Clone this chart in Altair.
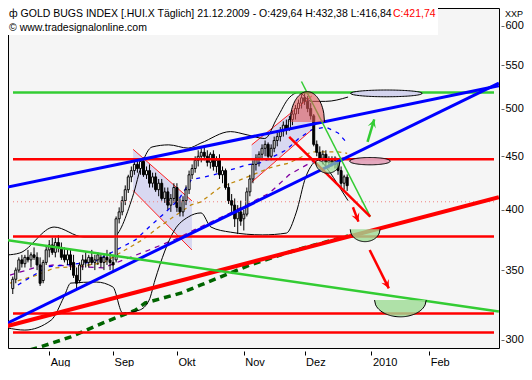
import altair as alt
import numpy as np
import pandas as pd

# ---------------- price bars (trading-day index, 0 = 3 Aug 2009, 98 = 21 Dec 2009)
bar_idx = list(range(-12, 99))
opens = [336, 343, 350, 358, 355, 360, 358, 362, 360, 354, 342, 356,
         366, 370, 364, 372, 368, 362, 358, 362, 356, 346,
         342, 354, 358, 356, 360, 356, 358, 360, 356, 360,
         358, 356, 358, 392, 398, 408, 418, 430, 436, 442,
         438, 445, 432, 436, 424, 430, 418, 424, 410, 416,
         404, 410, 420, 402, 398, 408, 418, 432, 438, 446,
         450, 454, 450, 444, 452, 440, 446, 432, 436, 420,
         408, 404, 392, 398, 392, 396, 416, 428, 442, 448,
         452, 458, 462, 450, 458, 466, 470, 476, 482, 478,
         488, 494, 500, 506, 512, 508, 500, 492, 462, 454,
         448, 452, 444, 446, 442, 446, 436, 424, 429.64]
highs = [345, 352, 360, 362, 362, 366, 364, 368, 364, 360, 358, 370,
         374, 376, 376, 378, 372, 368, 366, 366, 362, 352,
         356, 362, 364, 362, 366, 362, 364, 362, 362, 366,
         364, 362, 394, 402, 412, 422, 432, 440, 446, 447,
         448, 449, 440, 442, 434, 434, 428, 428, 420, 420,
         414, 424, 424, 410, 412, 422, 436, 442, 450, 456,
         458, 460, 456, 454, 456, 450, 452, 440, 438, 424,
         414, 410, 404, 408, 400, 420, 432, 446, 452, 455,
         462, 466, 464, 462, 470, 474, 480, 486, 488, 492,
         498, 504, 510, 516, 518, 514, 506, 494, 466, 460,
         456, 456, 450, 450, 450, 448, 440, 432, 432.38]
lows = [332, 340, 348, 352, 352, 356, 352, 358, 350, 338, 340, 354,
        360, 362, 360, 364, 358, 356, 354, 350, 344, 336,
        340, 350, 352, 352, 354, 350, 354, 352, 350, 354,
        350, 348, 356, 388, 395, 404, 415, 425, 432, 434,
        432, 430, 428, 420, 420, 416, 412, 408, 406, 400,
        398, 406, 398, 394, 394, 404, 414, 428, 434, 440,
        444, 446, 440, 438, 436, 434, 428, 424, 418, 405,
        398, 385, 379, 386, 382, 394, 412, 424, 436, 440,
        446, 450, 446, 446, 454, 460, 465, 470, 472, 476,
        482, 488, 494, 500, 504, 496, 488, 460, 450, 445,
        442, 440, 438, 440, 438, 432, 420, 418, 416.84]
closes = [343, 350, 358, 355, 360, 358, 362, 360, 354, 340, 356, 366,
          370, 364, 372, 368, 360, 358, 362, 354, 346, 340,
          354, 358, 356, 360, 356, 358, 362, 356, 360, 358,
          356, 354, 392, 398, 408, 418, 430, 436, 442, 438,
          445, 432, 436, 424, 430, 418, 424, 410, 416, 404,
          410, 420, 402, 398, 408, 418, 432, 438, 446, 450,
          454, 450, 444, 452, 440, 446, 432, 436, 420, 408,
          404, 392, 398, 390, 396, 416, 428, 442, 448, 452,
          458, 462, 450, 458, 466, 470, 476, 482, 478, 488,
          494, 500, 506, 512, 508, 500, 492, 462, 454, 448,
          452, 444, 446, 442, 446, 436, 424, 430, 421.74]

# ---------------- axis ticks
tick_idx = [0, 21, 42, 64, 84, 106, 125]
tick_lbl = ["Aug", "Sep", "Okt", "Nov", "Dez", "2010", "Feb"]
y_ticks = [300, 350, 400, 450, 500, 550, 600]
X_DOM = [-11.92, 146.3]
Y_DOM = [294.7, 624.3]

# ---------------- indicator lines (index, value)
bb_up_i = [-13.85, -9.67, 1.61, 11.28, 20.94, 27.38, 30.6, 33.8, 39.3, 45.7, 49.9, 59.6, 65.1, 70.9, 75.0, 78.9, 82.0, 86.3, 90.9, 98.3]
bb_up_v = [361.9, 363.5, 384.9, 376.6, 376.6, 411.1, 443.4, 459.3, 461.5, 458.2, 463.3, 475.2, 471.8, 468.0, 490.0, 512.0, 518.0, 508.0, 508.0, 512.9]
bb_lo_i = [-13.85, -8.05, 0.64, 4.83, 7.09, 15.46, 20.94, 24.16, 29.64, 32.86, 34.79, 41.24, 45.75, 49.94, 53.2, 59.6, 70.2, 78.0, 81.2, 84.4, 88.6, 91.9, 95.0, 98.3]
bb_lo_v = [308.1, 306.6, 313.4, 329.8, 340.1, 340.9, 337.2, 318.4, 320.4, 327.6, 342.4, 382.5, 393.6, 397.1, 384.9, 380.6, 378.3, 379.8, 397.1, 430.0, 446.0, 436.0, 422.5, 408.0]
ma_blue_i = [-10.3, -0.64, 14.5, 28.35, 32.86, 38.0, 42.5, 46.7, 54.1, 59.6, 65.1, 69.3, 73.5, 78.0, 82.2, 86.3, 90.9, 95.0, 98.0]
ma_blue_v = [338.7, 352.5, 356.3, 374.1, 384.9, 397.1, 408.7, 427.2, 431.9, 436.7, 441.6, 443.4, 449.3, 456.4, 468.4, 477.0, 480.1, 473.8, 463.3]
ma_orange_i = [-12.9, -3.87, 1.61, 8.05, 17.7, 30.6, 36.1, 40.3, 46.7, 49.9, 56.4, 62.8, 72.5, 78.9, 86.3, 95.0, 98.0]
ma_orange_v = [340.1, 346.2, 351.7, 352.5, 355.6, 374.1, 384.9, 392.7, 404.2, 406.9, 420.6, 427.2, 438.6, 443.4, 454.3, 454.3, 453.0]
ma_purple_i = [-12.9, -3.87, 1.61, 17.7, 32.86, 42.5, 47.7, 59.6, 72.5, 78.9, 86.3, 95.0, 98.0]
ma_purple_v = [346.2, 352.5, 354.0, 351.7, 365.9, 375.8, 382.5, 397.1, 415.0, 431.9, 444.4, 448.4, 448.0]
ma_green_i = [-13.85, -3.87, 7.09, 17.7, 28.35, 31.6, 43.5, 49.9, 66.0, 81.2, 98.3]
ma_green_v = [289.6, 294.8, 302.0, 311.5, 320.4, 325.5, 332.8, 338.7, 354.0, 365.9, 377.4]

# ---------------- drawn annotations
h_level = [518, 447, 377, 318, 305]
h_color = ["#33cc33", "#ff0000", "#ff0000", "#ff0000", "#ff0000"]
dotted_level = 407
trend_i0 = [-13.85, -13.85, -13.85, -13.85, 82.96, 78.93]
trend_v0 = [420.3, 311.2, 309.3, 373.9, 530.8, 469.7]
trend_i1 = [147.9, 147.9, 147.9, 147.9, 105.6, 105.6]
trend_v1 = [525.8, 529.0, 411.1, 319.4, 393.9, 393.9]
trend_col = ["#0000ff", "#0000ff", "#ff0000", "#33cc33", "#33cc33", "#ff0000"]
trend_w = [3, 3, 4, 2.5, 1.5, 2.5]
chan_i0 = [27.6, 66.6]
chan_i1 = [46.94, 86.34]
chan_up0 = [456.9, 461.5]
chan_up1 = [407.8, 514.0]
chan_lo0 = [417.2, 425.1]
chan_lo1 = [365.9, 477.0]
shape_kind = ["ellipse", "ellipse", "bowl", "bowl", "bowl", "dome"]
shape_ci = [110.9, 105.5, 103.9, 115.5, 91.6, 84.9]
shape_hw = [11.8, 6.7, 4.9, 8.5, 4.0, 5.64]
shape_top = [520.9, 448.8, 383.0, 327.6, 444.7, 519.0]
shape_bot = [513.2, 441.6, 372.7, 315.7, 433.5, 485.5]
shape_fill = ["#d4d4ee", "#e3a3bb", "#9ddc95", "#9ddc95", "#9ddc95", "#e05a5a"]
shape_op = [1.0, 0.95, 0.8, 0.8, 0.7, 0.6]
arrow_i0 = [99.9, 105.4, 104.7]
arrow_v0 = [402.1, 365.9, 464.6]
arrow_i1 = [101.7, 111.7, 106.9]
arrow_v1 = [389.5, 336.2, 488.3]
arrow_col = ["#ff0000", "#ff0000", "#33cc33"]

W, H = 491, 340
PX_I = W / (X_DOM[1] - X_DOM[0])
PX_DEC = H / (np.log10(Y_DOM[1]) - np.log10(Y_DOM[0]))

xsc = alt.Scale(domain=X_DOM, nice=False, zero=False)
ysc = alt.Scale(type="log", domain=Y_DOM, nice=False)

lbl_expr = "".join(f"datum.value == {v} ? '{t}' : " for v, t in zip(tick_idx, tick_lbl)) + "''"
x_axis = alt.Axis(values=tick_idx, labelExpr=lbl_expr, title=None, grid=False, domain=False,
                  tickSize=4, tickColor="black", offset=3, labelAlign="left", labelPadding=1,
                  labelOffset=1, labelFont="Liberation Sans", labelFontSize=11, labelColor="black",
                  labelBaseline="top", labelOverlap=False, labelFlush=False)
y_axis = alt.Axis(orient="right", values=y_ticks, format="d", title=None, grid=False, domain=False,
                  tickSize=3, tickColor="#666666", offset=2, labelPadding=1,
                  labelFont="Liberation Sans", labelFontSize=11, labelColor="black")


def X(f="i"):
    return alt.X(f + ":Q", scale=xsc, axis=x_axis)


def Y(f="v"):
    return alt.Y(f + ":Q", scale=ysc, axis=y_axis)


layers = []
dummy = pd.DataFrame({"a": [0]})

# title background box
layers.append(alt.Chart(dummy).mark_rect(fill="white").encode(
    x=alt.value(0), x2=alt.value(430), y=alt.value(0), y2=alt.value(27)))

# channels
ch_rows = []
for k in range(len(chan_i0)):
    ch_rows.append({"id": k, "i": chan_i0[k], "lo": chan_lo0[k], "up": chan_up0[k]})
    ch_rows.append({"id": k, "i": chan_i1[k], "lo": chan_lo1[k], "up": chan_up1[k]})
layers.append(alt.Chart(pd.DataFrame(ch_rows)).mark_area(color="#d2d2f0", opacity=0.85).encode(
    x=X(), y=Y("lo"), y2="up:Q", detail="id:N"))
ch_lines = []
for k in range(len(chan_i0)):
    for side, a, b in (("u", chan_up0[k], chan_up1[k]), ("l", chan_lo0[k], chan_lo1[k])):
        ch_lines.append({"id": f"{k}{side}", "i": chan_i0[k], "v": a})
        ch_lines.append({"id": f"{k}{side}", "i": chan_i1[k], "v": b})
layers.append(alt.Chart(pd.DataFrame(ch_lines)).mark_line(color="#ff2020", strokeWidth=1).encode(
    x=X(), y=Y(), detail="id:N"))


def ser(ii, vv):
    return pd.DataFrame({"i": ii, "v": vv})


# indicator lines
layers.append(alt.Chart(ser(ma_green_i, ma_green_v)).mark_line(
    color="#006400", strokeWidth=3.5, strokeDash=[7, 5], clip=True).encode(x=X(), y=Y()))
layers.append(alt.Chart(ser(ma_purple_i, ma_purple_v)).mark_line(
    color="#8000a0", strokeWidth=1.3, strokeDash=[5, 5], clip=True).encode(x=X(), y=Y()))
layers.append(alt.Chart(ser(ma_orange_i, ma_orange_v)).mark_line(
    color="#c08a10", strokeWidth=1.3, strokeDash=[4, 4], clip=True).encode(x=X(), y=Y()))
layers.append(alt.Chart(ser(ma_blue_i, ma_blue_v)).mark_line(
    color="#0000ff", strokeWidth=1.3, strokeDash=[4, 5], clip=True).encode(x=X(), y=Y()))
layers.append(alt.Chart(ser(bb_up_i, bb_up_v)).mark_line(
    color="black", strokeWidth=1, clip=True, interpolate="monotone").encode(x=X(), y=Y()))
layers.append(alt.Chart(ser(bb_lo_i, bb_lo_v)).mark_line(
    color="black", strokeWidth=1, clip=True, interpolate="monotone").encode(x=X(), y=Y()))

# candles
cd = pd.DataFrame({"i": bar_idx, "o": opens, "h": highs, "l": lows, "c": closes})
layers.append(alt.Chart(cd).mark_rule(color="black", strokeWidth=1, clip=True).encode(
    x=X(), y=Y("l"), y2="h:Q"))
layers.append(alt.Chart(cd).mark_bar(size=2, stroke="black", strokeWidth=1, clip=True).encode(
    x=X(), y=Y("o"), y2="c:Q",
    fill=alt.condition("datum.c >= datum.o", alt.value("white"), alt.value("black"))))

# horizontal levels
hl = []
for k, (lv, col) in enumerate(zip(h_level, h_color)):
    hl.append({"id": k, "i": X_DOM[0], "v": lv, "col": col})
    hl.append({"id": k, "i": X_DOM[1], "v": lv, "col": col})
layers.append(alt.Chart(pd.DataFrame(hl)).mark_line(strokeWidth=2.5, clip=True).encode(
    x=X(), y=Y(), detail="id:N", color=alt.Color("col:N", scale=None)))
layers.append(alt.Chart(ser(X_DOM, [dotted_level, dotted_level])).mark_line(
    color="#f08080", strokeWidth=1, strokeDash=[1, 3]).encode(x=X(), y=Y()))

# trend lines
tl = []
for k in range(len(trend_i0)):
    tl.append({"id": k, "i": trend_i0[k], "v": trend_v0[k], "col": trend_col[k], "w": trend_w[k]})
    tl.append({"id": k, "i": trend_i1[k], "v": trend_v1[k], "col": trend_col[k], "w": trend_w[k]})
layers.append(alt.Chart(pd.DataFrame(tl)).mark_line(clip=True).encode(
    x=X(), y=Y(), detail="id:N", color=alt.Color("col:N", scale=None),
    strokeWidth=alt.StrokeWidth("w:Q", scale=None)))

# shapes (ellipses, bowls, dome)
sh_area, sh_edge = [], []
t = np.linspace(-1, 1, 49)
s = np.sqrt(np.clip(1 - t ** 2, 0, 1))
for k, kind in enumerate(shape_kind):
    lt, lb = np.log10(shape_top[k]), np.log10(shape_bot[k])
    xi = shape_ci[k] + shape_hw[k] * t
    if kind == "ellipse":
        mid, hh = (lt + lb) / 2, (lt - lb) / 2
        up, lo = 10 ** (mid + hh * s), 10 ** (mid - hh * s)
        edges = [("a", up), ("b", lo)]
    elif kind == "bowl":
        up, lo = np.full_like(t, shape_top[k]), 10 ** (lt - (lt - lb) * s)
        edges = [("b", lo)]
    else:
        up, lo = 10 ** (lb + (lt - lb) * s), np.full_like(t, shape_bot[k])
        edges = [("a", up)]
    for j in range(len(t)):
        sh_area.append({"id": k, "i": xi[j], "up": up[j], "lo": lo[j],
                        "fill": shape_fill[k], "op": shape_op[k]})
    for name, arr in edges:
        for j in range(len(t)):
            sh_edge.append({"id": f"{k}{name}", "i": xi[j], "v": arr[j]})
layers.append(alt.Chart(pd.DataFrame(sh_area)).mark_area().encode(
    x=X(), y=Y("lo"), y2="up:Q", detail="id:N",
    fill=alt.Fill("fill:N", scale=None), opacity=alt.Opacity("op:Q", scale=None)))
layers.append(alt.Chart(pd.DataFrame(sh_edge)).mark_line(color="black", strokeWidth=1).encode(
    x=X(), y=Y(), detail="id:N"))

# arrows
ar_sh, ar_hd = [], []
for k in range(len(arrow_i0)):
    ar_sh.append({"id": k, "i": arrow_i0[k], "v": arrow_v0[k], "col": arrow_col[k]})
    ar_sh.append({"id": k, "i": arrow_i1[k], "v": arrow_v1[k], "col": arrow_col[k]})
    dx = (arrow_i1[k] - arrow_i0[k]) * PX_I
    dy = -(np.log10(arrow_v1[k]) - np.log10(arrow_v0[k])) * PX_DEC
    ang = float(np.degrees(np.arctan2(-dx, dy))) % 360
    ar_hd.append({"i": arrow_i1[k], "v": arrow_v1[k], "col": arrow_col[k], "ang": ang})
layers.append(alt.Chart(pd.DataFrame(ar_sh)).mark_line(strokeWidth=2.5).encode(
    x=X(), y=Y(), detail="id:N", color=alt.Color("col:N", scale=None)))
layers.append(alt.Chart(pd.DataFrame(ar_hd)).mark_point(
    shape="M -1 -2 L 0 0 L 1 -2 L 0 -1.2 Z", filled=True, size=70, opacity=1).encode(
    x=X(), y=Y(), color=alt.Color("col:N", scale=None), angle=alt.Angle("ang:Q", scale=None)))

# texts
title_main = "ф GOLD BUGS INDEX [.HUI.X  Täglich] 21.12.2009 - O:429,64 H:432,38 L:416,84"
title_close = "C:421,74"
source_txt = "© www.tradesignalonline.com"
layers.append(alt.Chart(dummy).mark_text(color="black", font="Liberation Sans", fontSize=10.5,
                                         align="left", baseline="middle").encode(
    x=alt.value(1), y=alt.value(6), text=alt.value(title_main)))
layers.append(alt.Chart(dummy).mark_text(color="#ff0000", font="Liberation Sans", fontSize=10.5,
                                         align="left", baseline="middle").encode(
    x=alt.value(385), y=alt.value(6), text=alt.value(title_close)))
layers.append(alt.Chart(dummy).mark_text(color="black", font="Liberation Sans", fontSize=10.5,
                                         align="left", baseline="middle").encode(
    x=alt.value(1), y=alt.value(20), text=alt.value(source_txt)))
layers.append(alt.Chart(dummy).mark_text(color="black", font="Liberation Sans", fontSize=9,
                                         align="left", baseline="middle").encode(
    x=alt.value(497), y=alt.value(6), text=alt.value("XXP")))

chart = alt.layer(*layers).properties(
    width=W, height=H,
    autosize=alt.AutoSizeParams(type="none"),
    padding={"left": 0, "top": 0, "right": 25, "bottom": 19},
).configure_view(fill="#f5f5f5", stroke="black", strokeWidth=1)

chart.save("out.html", embed_options={"renderer": "svg", "actions": False})
